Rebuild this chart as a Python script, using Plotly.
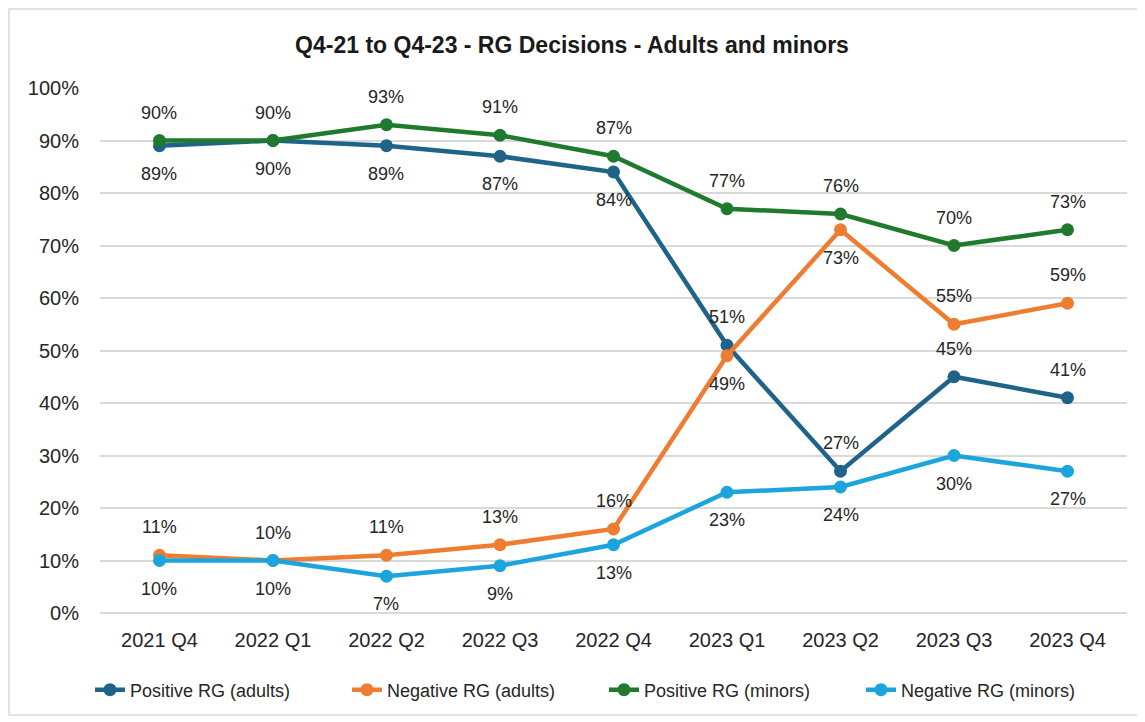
import plotly.graph_objects as go

quarters = ["2021 Q4", "2022 Q1", "2022 Q2", "2022 Q3", "2022 Q4",
            "2023 Q1", "2023 Q2", "2023 Q3", "2023 Q4"]

pos_adults = [89, 90, 89, 87, 84, 51, 27, 45, 41]
neg_adults = [11, 10, 11, 13, 16, 49, 73, 55, 59]
pos_minors = [90, 90, 93, 91, 87, 77, 76, 70, 73]
neg_minors = [10, 10, 7, 9, 13, 23, 24, 30, 27]

# where each data label sits: 1 = above the point, -1 = below
pos_adults_side = [-1, -1, -1, -1, -1, 1, 1, 1, 1]
neg_adults_side = [1, 1, 1, 1, 1, -1, -1, 1, 1]
pos_minors_side = [1, 1, 1, 1, 1, 1, 1, 1, 1]
neg_minors_side = [-1, -1, -1, -1, -1, -1, -1, -1, -1]

series = [
    ("Positive RG (adults)", pos_adults, pos_adults_side, "#1F6388"),
    ("Negative RG (adults)", neg_adults, neg_adults_side, "#EE7D31"),
    ("Positive RG (minors)", pos_minors, pos_minors_side, "#1F7A2E"),
    ("Negative RG (minors)", neg_minors, neg_minors_side, "#1CA5DC"),
]

font = "Liberation Sans, Arial, sans-serif"

fig = go.Figure()
annotations = []
for name, vals, sides, color in series:
    fig.add_trace(go.Scatter(
        x=quarters, y=vals, name=name, mode="lines+markers",
        line=dict(color=color, width=4.5),
        marker=dict(color=color, size=13),
    ))
    for q, v, s in zip(quarters, vals, sides):
        annotations.append(dict(
            x=q, y=v, text=f"{v}%", showarrow=False,
            yshift=28 * s, font=dict(size=18, color="#262626", family=font),
        ))

# page has an 8px body margin, so work in page pixels and subtract it
OFF = 8
W, H = 1145 - OFF, 722 - OFF
L, R, T, B = 100 - OFF, 18, 88 - OFF, 109
pw, ph = W - L - R, H - T - B


def px_x(p):
    return (p - OFF - L) / pw


def px_y(p):
    return (H - B - (p - OFF)) / ph


fig.add_shape(type="rect", xref="paper", yref="paper",
              x0=px_x(9), x1=px_x(1139), y0=px_y(715), y1=px_y(9),
              line=dict(color="#D9D9D9", width=1.5), layer="below")

fig.update_layout(
    width=W, height=H,
    margin=dict(l=L, r=R, t=T, b=B),
    paper_bgcolor="white", plot_bgcolor="white",
    font=dict(family=font, color="#262626"),
    title=dict(text="<b>Q4-21 to Q4-23 - RG Decisions - Adults and minors</b>",
               x=px_x(572), xanchor="center", xref="paper",
               y=1 - (45 - OFF) / H, yanchor="middle",
               font=dict(size=23, color="#1a1a1a", family=font)),
    annotations=annotations,
    showlegend=True,
    legend=dict(orientation="h", x=px_x(604), xanchor="center",
                y=px_y(690), yanchor="middle",
                font=dict(size=18, color="#262626", family=font),
                entrywidth=212, entrywidthmode="pixels",
                traceorder="normal"),
)
fig.update_xaxes(showgrid=False, showline=False, zeroline=False,
                 tickfont=dict(size=20, family=font, color="#262626"),
                 ticklabelstandoff=13)
fig.update_yaxes(range=[0, 100], dtick=10, ticksuffix="%",
                 showgrid=True, gridcolor="#D9D9D9", gridwidth=1.5,
                 zeroline=True, zerolinecolor="#D9D9D9", zerolinewidth=1.5,
                 showline=False,
                 tickfont=dict(size=20, family=font, color="#262626"),
                 ticklabelstandoff=20)

fig.write_html("out.html")
